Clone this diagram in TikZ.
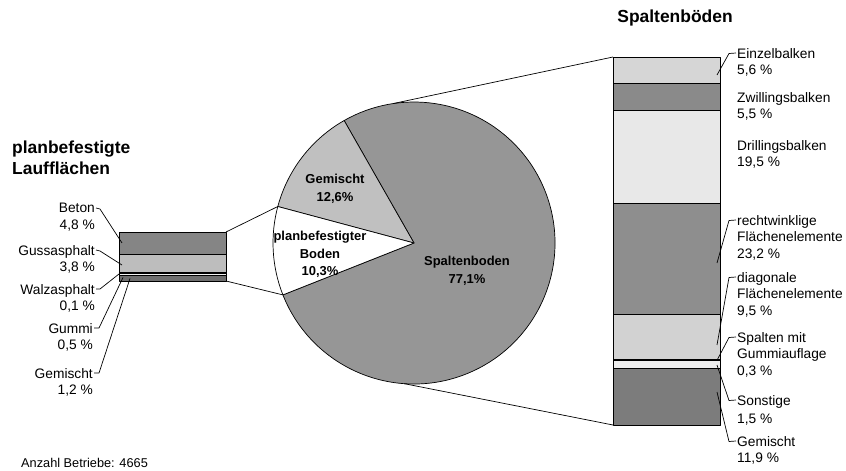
\documentclass[tikz,border=0pt]{standalone}
\usepackage{fontspec}
\setmainfont{Liberation Sans}
\definecolor{spalt}{HTML}{969696}
\definecolor{gemp}{HTML}{C0C0C0}
\definecolor{cBeton}{HTML}{858585}
\definecolor{cGuss}{HTML}{BDBDBD}
\definecolor{cWalz}{HTML}{FFFFFF}
\definecolor{cGummi}{HTML}{F2F2F2}
\definecolor{cGemL}{HTML}{6E6E6E}
\definecolor{cEinzel}{HTML}{D6D6D6}
\definecolor{cZwill}{HTML}{8A8A8A}
\definecolor{cDrill}{HTML}{E8E8E8}
\definecolor{cRecht}{HTML}{8E8E8E}
\definecolor{cDiag}{HTML}{D2D2D2}
\definecolor{cSGum}{HTML}{FFFFFF}
\definecolor{cSonst}{HTML}{EEEEEE}
\definecolor{cGemR}{HTML}{7C7C7C}
\begin{document}
\begin{tikzpicture}[x=1bp,y=-1bp,line join=round]
\tikzset{
  lab/.style={font=\fontsize{13.8}{16.5}\selectfont, inner sep=1bp},
  piel/.style={font=\bfseries\fontsize{13}{17.5}\selectfont, align=center, inner sep=0pt},
  ttl/.style={font=\bfseries\fontsize{17.5}{21}\selectfont, inner sep=0pt},
  seg/.style={draw=black, line width=0.8bp},
  lead/.style={draw=black, line width=0.7bp},
  conn/.style={draw=black, line width=0.7bp},
  pie/.style={draw=black, line width=0.7bp},
}
\useasboundingbox (0,0) rectangle (846,471);

% ---------- pie ----------
\begin{scope}[shift={(414,243)}, y=1bp]
  \filldraw[pie, fill=spalt] (0,0) -- (201.6:141) arc[start angle=201.6, end angle=479.7, radius=141] -- cycle;
  \filldraw[pie, fill=gemp] (0,0) -- (119.7:141) arc[start angle=119.7, end angle=165, radius=141] -- cycle;
  \filldraw[pie, fill=white] (0,0) -- (165:141) arc[start angle=165, end angle=201.6, radius=141] -- cycle;
  \coordinate (pL1) at (165:141);
  \coordinate (pL2) at (201.6:141);
  \coordinate (pR1) at (98.5:141);
  \coordinate (pR2) at (266:141);
\end{scope}

\node[piel] (tGem) at (335,189) {Gemischt\\12,6\%};
\node[piel] (tPlan) at (320,254.5) {planbefestigter\\Boden\\10,3\%};
\node[piel] (tSpalt) at (467,271) {Spaltenboden\\77,1\%};

% ---------- left bar ----------
\filldraw[seg, fill=cBeton] (119,232) rectangle (226,254.6);
\filldraw[seg, fill=cGuss] (119,254.6) rectangle (226,272.5);
\filldraw[seg, fill=cWalz] (119,272.5) rectangle (226,273.0);
\filldraw[seg, fill=cGummi] (119,273.0) rectangle (226,275.3);
\filldraw[seg, fill=cGemL] (119,275.3) rectangle (226,281);
\coordinate (lbTop) at (226,232);
\coordinate (lbBot) at (226,281);
\draw[conn] (lbTop) -- (pL1);
\draw[conn] (lbBot) -- (pL2);

% ---------- right bar ----------
\filldraw[seg, fill=cEinzel] (613,57) rectangle (720,83.8);
\filldraw[seg, fill=cZwill] (613,83.8) rectangle (720,110.1);
\filldraw[seg, fill=cDrill] (613,110.1) rectangle (720,203.3);
\filldraw[seg, fill=cRecht] (613,203.3) rectangle (720,314.1);
\filldraw[seg, fill=cDiag] (613,314.1) rectangle (720,359.5);
\filldraw[seg, fill=cSGum] (613,359.5) rectangle (720,360.9);
\filldraw[seg, fill=cSonst] (613,360.9) rectangle (720,368.1);
\filldraw[seg, fill=cGemR] (613,368.1) rectangle (720,425);
\coordinate (rbTop) at (613,57);
\coordinate (rbBot) at (613,425);
\draw[conn] (pR1) -- (rbTop);
\draw[conn] (pR2) -- (rbBot);

% ---------- titles ----------
\node[ttl, anchor=west, align=left] (ttlL) at (12,157.5) {planbefestigte\\Laufflächen};
\node[ttl] (ttlR) at (675,18) {Spaltenböden};
\node[font=\fontsize{12.8}{14}\selectfont, anchor=west, inner sep=0pt] (anz) at (21,463) {Anzahl Betriebe: 4665};

% ---------- left labels ----------
\node[lab, anchor=north east, align=right] (lBeton) at (96,202) {Beton\\4,8 \%};
\node[lab, anchor=north east, align=right] (lGuss) at (96,244) {Gussasphalt\\3,8 \%};
\node[lab, anchor=north east, align=right] (lWalz) at (96,283) {Walzasphalt\\0,1 \%};
\node[lab, anchor=north east, align=right] (lGummi) at (94,322) {Gummi\\0,5 \%};
\node[lab, anchor=north east, align=right] (lGemL) at (94,367) {Gemischt\\1,2 \%};

\coordinate (bBeton) at (122,243);
\coordinate (bGuss) at (122,265);
\coordinate (bWalz) at (119,274);
\coordinate (bGummi) at (123,277.5);
\coordinate (bGemL) at (130,278.5);
\draw[lead] ([yshift=-6bp]lBeton.north east) -- (100,209) -- (bBeton);
\draw[lead] ([yshift=-6bp]lGuss.north east) -- (100,251) -- (bGuss);
\draw[lead] ([yshift=-6bp]lWalz.north east) -- (100,289) -- (bWalz);
\draw[lead] ([yshift=-6bp]lGummi.north east) -- (99,328) -- (bGummi);
\draw[lead] ([yshift=-6bp]lGemL.north east) -- (99,373) -- (bGemL);

% ---------- right labels ----------
\node[lab, anchor=north west, align=left] (lEinzel) at (736,47) {Einzelbalken\\5,6 \%};
\node[lab, anchor=north west, align=left] (lZwill) at (736,91) {Zwillingsbalken\\5,5 \%};
\node[lab, anchor=north west, align=left] (lDrill) at (736,139) {Drillingsbalken\\19,5 \%};
\node[lab, anchor=north west, align=left] (lRecht) at (736,214) {rechtwinklige\\Flächenelemente\\23,2 \%};
\node[lab, anchor=north west, align=left] (lDiag) at (736,271) {diagonale\\Flächenelemente\\9,5 \%};
\node[lab, anchor=north west, align=left] (lSGum) at (736,331) {Spalten mit\\Gummiauflage\\0,3 \%};
\node[lab, anchor=north west, align=left, font=\fontsize{13.8}{18}\selectfont] (lSonst) at (736,394) {Sonstige\\1,5 \%};
\node[lab, anchor=north west, align=left] (lGemR) at (736,435) {Gemischt\\11,9 \%};

\coordinate (bEinzel) at (717,75);
\coordinate (bRecht) at (717,263);
\coordinate (bDiag) at (717,345);
\coordinate (bSGum) at (717,360.3);
\coordinate (bSonst) at (717,365);
\coordinate (bGemR) at (717,392);
\draw[lead] (bEinzel) -- (729,53.5) -- ([yshift=-6bp]lEinzel.north west);
\draw[lead] (bRecht) -- (729,220.5) -- ([yshift=-6bp]lRecht.north west);
\draw[lead] (bDiag) -- (729,277.5) -- ([yshift=-6bp]lDiag.north west);
\draw[lead] (bSGum) -- (729,337.5) -- ([yshift=-6bp]lSGum.north west);
\draw[lead] (bSonst) -- (729,400.5) -- ([yshift=-6bp]lSonst.north west);
\draw[lead] (bGemR) -- (729,441.5) -- ([yshift=-6bp]lGemR.north west);
\end{tikzpicture}
\end{document}
